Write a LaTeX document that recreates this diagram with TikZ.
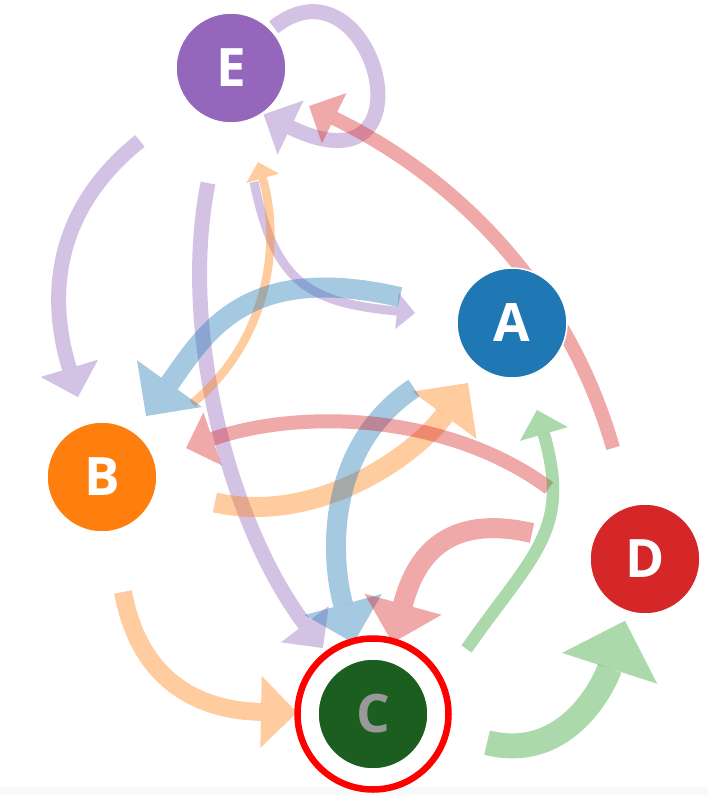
\documentclass[tikz,border=0pt]{standalone}
\usepackage{fontspec}
\setmainfont{Open Sans}
\usetikzlibrary{arrows.meta,backgrounds}

\definecolor{tabblue}{HTML}{1F77B4}
\definecolor{taborange}{HTML}{FF7F0E}
\definecolor{tabgreen}{HTML}{2CA02C}
\definecolor{tabred}{HTML}{D62728}
\definecolor{tabpurple}{HTML}{9467BD}
\definecolor{cgreen}{HTML}{1B5E20}
\definecolor{cgrey}{HTML}{999999}
\definecolor{stripgrey}{HTML}{F8F9FA}

\begin{document}
\begin{tikzpicture}[
    x=1pt, y=-1pt,
    vertex/.style={circle, minimum size=110pt, inner sep=0pt, outer sep=0pt,
      draw=white, line width=1.5pt, text=white,
      font=\fontsize{53}{60}\selectfont\bfseries},
    flow/.style={line width=#1, opacity=0.4,
      -{Triangle[length=0pt 2, width=0pt 4, line width=0pt]}}]
    \useasboundingbox (0,0) rectangle (708,795);
    % NODES
    % node E
    \node[vertex, fill=tabpurple] (E) at (231,68) {E};
    % node A
    \node[vertex, fill=tabblue] (A) at (512,323) {A};
    % node B
    \node[vertex, fill=taborange] (B) at (102,477) {B};
    % node D
    \node[vertex, fill=tabred] (D) at (645,559) {D};
    % node C, with its ring
    \node[vertex, fill=cgreen, text=cgrey] (C) at (373,714) {C};
    \draw[red, line width=6.5pt] (C.center) circle[radius=75.5pt];

    % ARROWS
    \begin{scope}[on background layer]
    \fill[stripgrey] (0,787) rectangle (708,795);
    % from E
    \draw[flow=15pt, tabpurple, shorten <=4pt, shorten >=2pt]
      (E.44) .. controls (373.5,-52) and (439.5,199.3) .. (E.-56);
    \draw[flow=15pt, tabpurple, shorten <=61.7pt, shorten >=28.5pt]
      (E) .. controls (52.5,211) and (48,297.5) .. (B);
    \draw[flow=15pt, tabpurple, shorten <=62.3pt, shorten >=27.8pt]
      (E) .. controls (178,333.5) and (232,528.4) .. (C);
    \draw[flow=9pt, tabpurple, shorten <=61.3pt, shorten >=42.5pt]
      (E) .. controls (275.3,287.3) and (312.4,302.4) .. (A);
    % from B
    \draw[flow=8.5pt, taborange, shorten <=61.5pt, shorten >=42.8pt]
      (B) .. controls (266.3,343) and (282.4,247) .. (E);
    \draw[flow=20pt, taborange, shorten <=60.8pt, shorten >=19.4pt]
      (B) .. controls (315.7,525.2) and (413.9,456.7) .. (A);
    \draw[flow=18pt, taborange, shorten <=61.9pt, shorten >=21pt]
      (B) .. controls (140.3,686.5) and (205.4,710.8) .. (C);
    % from A
    \draw[flow=20pt, tabblue, shorten <=60pt, shorten >=20.2pt]
      (A) .. controls (244,261) and (204.5,335) .. (B);
    \draw[flow=20pt, tabblue, shorten <=62.6pt, shorten >=18.5pt]
      (A) .. controls (326.6,446) and (329.6,554.7) .. (C);
    % from D
    \draw[flow=14pt, tabred, shorten <=60.5pt, shorten >=31.8pt]
      (D) .. controls (567,288) and (456.3,177.8) .. (E);
    \draw[flow=14pt, tabred, shorten <=64.4pt, shorten >=33.9pt]
      (D) .. controls (447,412.6) and (300,408.7) .. (B);
    \draw[flow=20pt, tabred, shorten <=61pt, shorten >=18.8pt]
      (D) .. controls (438.7,511.5) and (413.4,566.2) .. (C);
    % from C
    \draw[flow=12.5pt, tabgreen, shorten <=68.7pt, shorten >=35.5pt]
      (C.9) .. controls (532.4,554.3) and (571.9,531.7) .. (A);
    \draw[flow=25pt, tabgreen, shorten <=62.6pt, shorten >=9.9pt]
      (C) .. controls (569.9,763.4) and (606.4,678.2) .. (D);
    \end{scope}
\end{tikzpicture}
\end{document}
